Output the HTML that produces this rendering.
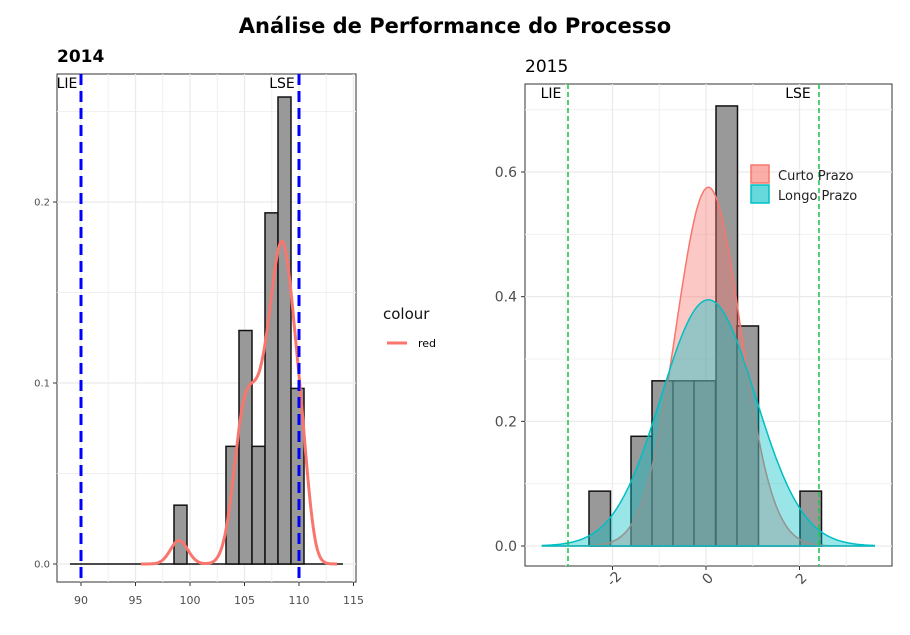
<!DOCTYPE html>
<html><head><meta charset="utf-8"><style>
body{margin:0;background:#fff;width:910px;height:630px;overflow:hidden}
text{font-family:"DejaVu Sans","Liberation Sans",sans-serif}
</style></head><body>
<svg id="s" width="910" height="630" xmlns="http://www.w3.org/2000/svg">
<text x="455" y="33" text-anchor="middle" font-size="21" font-weight="bold">Análise de Performance do Processo</text>
<text x="57" y="62" font-size="17" font-weight="bold">2014</text>
<text x="525" y="72" font-size="17">2015</text>
<g id="L"></g><g id="R"></g>
<text x="383" y="319" font-size="15" fill="#111">colour</text>
<line x1="387" y1="343" x2="407" y2="343" stroke="#f8766d" stroke-width="3"/>
<text x="418" y="347" font-size="11">red</text>
</svg>
<script>
var NS="http://www.w3.org/2000/svg";
function el(p,t,a){var e=document.createElementNS(NS,t);for(var k in a)e.setAttribute(k,a[k]);p.appendChild(e);return e}
function txt(p,x,y,s,a){var e=el(p,"text",Object.assign({x:x,y:y},a||{}));e.textContent=s;return e}
function N(x,m,s){return Math.exp(-0.5*((x-m)/s)**2)/(s*2.5066)}
// LEFT
var L=document.getElementById("L");
var lx=v=>81+(v-90)*10.9, ly=v=>564-v*1810;
el(L,"rect",{x:57,y:74,width:299,height:508,fill:"#fff",stroke:"#333","stroke-width":1});
[[92.5],[97.5],[102.5],[107.5],[112.5]].forEach(a=>el(L,"line",{x1:lx(a[0]),x2:lx(a[0]),y1:74,y2:582,stroke:"#f0f0f0","stroke-width":1}));
[0.05,0.15,0.25].forEach(v=>el(L,"line",{x1:57,x2:356,y1:ly(v),y2:ly(v),stroke:"#f0f0f0"}));
[90,95,100,105,110,115].forEach(v=>{el(L,"line",{x1:lx(v),x2:lx(v),y1:74,y2:582,stroke:"#ebebeb","stroke-width":1.3});el(L,"line",{x1:lx(v),x2:lx(v),y1:582,y2:586,stroke:"#333"});txt(L,lx(v),604,v,{"text-anchor":"middle","font-size":11,fill:"#4d4d4d"})});
[[0,"0.0"],[0.1,"0.1"],[0.2,"0.2"]].forEach(a=>{el(L,"line",{x1:57,x2:356,y1:ly(a[0]),y2:ly(a[0]),stroke:"#ebebeb","stroke-width":1.3});el(L,"line",{x1:53,x2:57,y1:ly(a[0]),y2:ly(a[0]),stroke:"#333"});txt(L,50,ly(a[0])+3.5,a[1],{"text-anchor":"end","font-size":10,fill:"#4d4d4d"})});
el(L,"line",{x1:70,x2:343,y1:564,y2:564,stroke:"#111","stroke-width":1.5});
[[174,0.0325],[226,0.065],[239,0.129],[252,0.065],[265,0.194],[278,0.258],[291,0.097]].forEach(b=>el(L,"rect",{x:b[0],y:ly(b[1]),width:13,height:b[1]*1810,fill:"#999",stroke:"#111","stroke-width":1.5}));
var d="";for(var v=95.5;v<=113.5;v+=0.1){var y=0.026*N(v,99,0.8)+0.2*N(v,105,1.0)+0.15*N(v,106.8,1.0)+0.45*N(v,108.6,1.1)+0.06*N(v,110.3,0.7);d+=(d?"L":"M")+lx(v).toFixed(1)+","+ly(y).toFixed(1)}
el(L,"path",{d:d,fill:"none",stroke:"#f8766d","stroke-width":3});
[81,299].forEach(x=>el(L,"line",{x1:x,x2:x,y1:74,y2:582,stroke:"#00f","stroke-width":3,"stroke-dasharray":"11 6"}));
txt(L,67,88,"LIE",{"text-anchor":"middle","font-size":14});
txt(L,282,88,"LSE",{"text-anchor":"middle","font-size":14});
// RIGHT
var R=document.getElementById("R");
var rx=v=>706+v*46.75, ry=v=>546-v*623.3;
el(R,"rect",{x:525,y:84,width:367,height:482,fill:"#fff",stroke:"#333"});
[-3,-1,1,3].forEach(v=>el(R,"line",{x1:rx(v),x2:rx(v),y1:84,y2:566,stroke:"#f0f0f0"}));
[0.1,0.3,0.5,0.7].forEach(v=>el(R,"line",{x1:525,x2:892,y1:ry(v),y2:ry(v),stroke:"#f0f0f0"}));
[-2,0,2].forEach(v=>{el(R,"line",{x1:rx(v),x2:rx(v),y1:84,y2:566,stroke:"#ebebeb","stroke-width":1.3});el(R,"line",{x1:rx(v),x2:rx(v),y1:566,y2:570,stroke:"#333"});txt(R,0,0,v==-2?"-2":v,{transform:"translate("+(rx(v)+5)+",582) rotate(-45)","text-anchor":"middle","font-size":14,fill:"#4d4d4d"})});
[[0,"0.0"],[0.2,"0.2"],[0.4,"0.4"],[0.6,"0.6"]].forEach(a=>{el(R,"line",{x1:525,x2:892,y1:ry(a[0]),y2:ry(a[0]),stroke:"#ebebeb","stroke-width":1.3});el(R,"line",{x1:521,x2:525,y1:ry(a[0]),y2:ry(a[0]),stroke:"#333"});txt(R,517,ry(a[0])+5,a[1],{"text-anchor":"end","font-size":14,fill:"#4d4d4d"})});
[[589,0.088],[631,0.176],[652,0.265],[673,0.265],[694,0.265],[716,0.706],[737,0.353],[800,0.088]].forEach(b=>el(R,"rect",{x:b[0],y:ry(b[1]),width:21.5,height:b[1]*623.3,fill:"#999",stroke:"#111","stroke-width":1.5}));
el(R,"line",{x1:589,x2:822,y1:546,y2:546,stroke:"#111","stroke-width":1.5});
function curve(s,fill,st){var d="M"+rx(-3.5)+","+ry(0);for(var v=-3.5;v<=3.61;v+=0.05)d+="L"+rx(v).toFixed(1)+","+ry(N(v,0.05,s)).toFixed(1);d+="L"+rx(3.6)+","+ry(0)+"Z";el(R,"path",{d:d,fill:fill,"fill-opacity":0.4,stroke:st,"stroke-width":1.5})}
curve(0.693,"#f8766d","#f8766d");
curve(1.01,"#00bfc4","#00bfc4");
[568,819].forEach(x=>el(R,"line",{x1:x,x2:x,y1:84,y2:566,stroke:"#22c64a","stroke-width":1.6,"stroke-dasharray":"5 3"}));
txt(R,551,98,"LIE",{"text-anchor":"middle","font-size":14});
txt(R,798,98,"LSE",{"text-anchor":"middle","font-size":14});
el(R,"rect",{x:751,y:165,width:18,height:18,fill:"#f8766d","fill-opacity":0.6,stroke:"#f8766d","stroke-width":1.5});
el(R,"rect",{x:751,y:185,width:18,height:18,fill:"#00bfc4","fill-opacity":0.6,stroke:"#00bfc4","stroke-width":1.5});
txt(R,778,180,"Curto Prazo",{"font-size":13,fill:"#222"});
txt(R,778,200,"Longo Prazo",{"font-size":13,fill:"#222"});
</script>
</body></html>
